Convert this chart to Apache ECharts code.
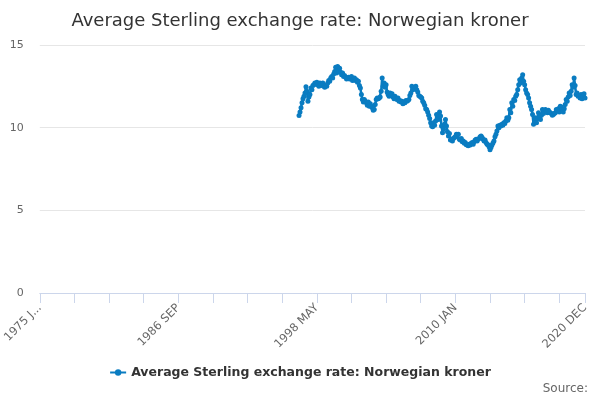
<!DOCTYPE html>
<html>
<head>
<meta charset="utf-8">
<script src="https://cdn.jsdelivr.net/npm/echarts@6/dist/echarts.min.js"></script>
<style>
  html, body { margin: 0; padding: 0; background: #fff; }
  #chart-container { width: 600px; height: 400px; }
</style>
</head>
<body>
<div id="chart-container"></div>
<script>
// monthly axis runs 1975 JAN .. 2020 DEC, series starts 1996 NOV
const firstYear = 1975;
const lastYear = 2020;
const monthNames = ['JAN', 'FEB', 'MAR', 'APR', 'MAY', 'JUN', 'JUL', 'AUG', 'SEP', 'OCT', 'NOV', 'DEC'];
const seriesStart = '1996 NOV';
const seriesName = 'Average Sterling exchange rate: Norwegian kroner';

// values, one row per year
const nok1996 = [10.73, 10.95];
const nok1997 = [11.2, 11.5, 11.75, 11.9, 12.1, 12.47, 12.2, 11.6, 11.85, 12.0, 12.4, 12.3];
const nok1998 = [12.55, 12.6, 12.7, 12.65, 12.75, 12.6, 12.5, 12.7, 12.65, 12.55, 12.7, 12.5];
const nok1999 = [12.45, 12.55, 12.5, 12.7, 12.85, 12.8, 13.0, 13.1, 13.0, 13.25, 13.4, 13.65];
const nok2000 = [13.3, 13.7, 13.45, 13.6, 13.35, 13.2, 13.3, 13.1, 13.15, 13.05, 12.95, 13.0];
const nok2001 = [13.05, 12.95, 13.0, 13.1, 12.85, 12.9, 13.0, 12.85, 12.9, 12.75, 12.8, 12.55];
const nok2002 = [12.4, 12.0, 11.7, 11.55, 11.7, 11.6, 11.5, 11.35, 11.55, 11.3, 11.45, 11.3];
const nok2003 = [11.2, 11.05, 11.1, 11.4, 11.7, 11.8, 11.75, 11.8, 11.85, 12.2, 13.0, 12.5];
const nok2004 = [12.7, 12.45, 12.6, 12.15, 12.0, 11.9, 12.1, 11.95, 12.05, 11.85, 11.75, 11.9];
const nok2005 = [11.75, 11.7, 11.8, 11.6, 11.65, 11.55, 11.6, 11.45, 11.55, 11.5, 11.65, 11.6];
const nok2006 = [11.65, 11.7, 11.95, 12.1, 12.5, 12.3, 12.45, 12.35, 12.5, 12.3, 12.15, 11.95];
const nok2007 = [11.9, 11.85, 11.8, 11.6, 11.5, 11.35, 11.15, 11.1, 10.95, 10.75, 10.55, 10.3];
const nok2008 = [10.1, 10.05, 10.3, 10.15, 10.4, 10.8, 10.65, 10.5, 10.95, 10.7, 10.1, 9.7];
const nok2009 = [9.9, 10.2, 10.5, 10.1, 9.75, 9.5, 9.65, 9.25, 9.3, 9.2, 9.35, 9.4];
const nok2010 = [9.45, 9.6, 9.55, 9.6, 9.3, 9.25, 9.35, 9.15, 9.2, 9.05, 9.1, 8.97];
const nok2011 = [8.95, 8.9, 9.0, 8.95, 9.05, 9.1, 9.0, 9.15, 9.25, 9.3, 9.2, 9.3];
const nok2012 = [9.35, 9.45, 9.5, 9.4, 9.3, 9.2, 9.25, 9.1, 9.0, 8.97, 8.85, 8.67];
const nok2013 = [8.8, 8.95, 9.07, 9.2, 9.45, 9.6, 9.8, 10.1, 10.0, 10.15, 10.1, 10.2];
const nok2014 = [10.15, 10.3, 10.25, 10.4, 10.6, 10.45, 10.6, 11.1, 10.9, 11.5, 11.3, 11.7];
const nok2015 = [11.65, 11.9, 12.0, 12.3, 12.6, 12.9, 12.7, 13.0, 13.2, 12.8, 12.6, 12.3];
const nok2016 = [12.1, 12.0, 11.8, 11.5, 11.3, 11.1, 10.8, 10.2, 10.45, 10.6, 10.3, 10.55];
const nok2017 = [10.9, 10.7, 10.5, 10.75, 11.1, 10.85, 10.95, 11.1, 11.0, 10.9, 11.05, 10.95];
const nok2018 = [10.9, 10.85, 10.75, 10.8, 10.85, 10.9, 11.1, 11.05, 11.15, 10.95, 11.3, 11.25];
const nok2019 = [11.1, 10.95, 11.15, 11.4, 11.7, 11.6, 11.85, 12.1, 11.95, 12.2, 12.6, 12.45];
const nok2020 = [13.0, 12.55, 12.0, 12.1, 11.9, 11.95, 11.8, 12.0, 11.75, 11.9, 12.05, 11.8];

const yTicks = [0, 5, 10, 15];

const start = () => {
    const months = [];
    for (let y = firstYear; y <= lastYear; y++) {
        monthNames.forEach(m => months.push(y + ' ' + m));
    }
    const values = [].concat(nok1996, nok1997, nok1998, nok1999, nok2000, nok2001, nok2002,
        nok2003, nok2004, nok2005, nok2006, nok2007, nok2008, nok2009, nok2010, nok2011,
        nok2012, nok2013, nok2014, nok2015, nok2016, nok2017, nok2018, nok2019, nok2020);
    const offset = months.indexOf(seriesStart);
    const data = months.map((m, i) => (i >= offset ? values[i - offset] : null));
    const last = months.length - 1;

    const chartDom = document.getElementById('chart-container');
    const myChart = echarts.init(chartDom, null, { renderer: 'canvas' });
    const option = {
        animation: false,
        textStyle: { fontFamily: 'DejaVu Sans' },
        title: [
            {
                text: 'Average Sterling exchange rate: Norwegian kroner',
                left: 'center',
                top: 7,
                textStyle: { fontSize: 18, fontWeight: 'normal', color: '#333333', fontFamily: 'DejaVu Sans' }
            },
            {
                text: 'Source:',
                right: 12,
                bottom: 5,
                padding: 0,
                textStyle: { fontSize: 12, fontWeight: 'normal', color: '#666666', fontFamily: 'DejaVu Sans' }
            }
        ],
        legend: {
            top: 366,
            left: 'center',
            padding: 0,
            itemWidth: 16,
            itemHeight: 8,
            itemGap: 5,
            textStyle: { fontSize: 12.5, fontWeight: 'bold', color: '#333333', fontFamily: 'DejaVu Sans' },
            data: [seriesName]
        },
        grid: { left: 38, right: 15, top: 45, bottom: 107, containLabel: false },
        xAxis: {
            type: 'category',
            data: months,
            boundaryGap: false,
            axisLine: { lineStyle: { color: '#ccd6eb', width: 1 } },
            axisTick: {
                length: 10,
                lineStyle: { color: '#ccd6eb' },
                interval: (i) => i % 35 === 0 || i === last
            },
            axisLabel: {
                rotate: 45,
                margin: 13,
                fontSize: 11.5,
                color: '#666666',
                fontFamily: 'DejaVu Sans',
                interval: (i) => i % 140 === 0 || i === last,
                formatter: (v, i) => (i === 0 ? v.slice(0, 6) + '...' : v)
            },
            splitLine: { show: false }
        },
        yAxis: {
            type: 'value',
            min: yTicks[0],
            max: yTicks[yTicks.length - 1],
            interval: 5,
            axisLine: { show: false },
            axisTick: { show: false },
            axisLabel: { fontSize: 11, color: '#666666', margin: 16, fontFamily: 'DejaVu Sans' },
            splitLine: { lineStyle: { color: '#e6e6e6' } }
        },
        series: [
            {
                name: seriesName,
                type: 'line',
                data: data,
                connectNulls: false,
                showAllSymbol: true,
                symbol: 'circle',
                symbolSize: 5,
                itemStyle: { color: '#0a7cc1' },
                lineStyle: { width: 2.5, color: '#0a7cc1' }
            }
        ]
    };
    myChart.setOption(option);
}

start();
</script>
</body>
</html>
